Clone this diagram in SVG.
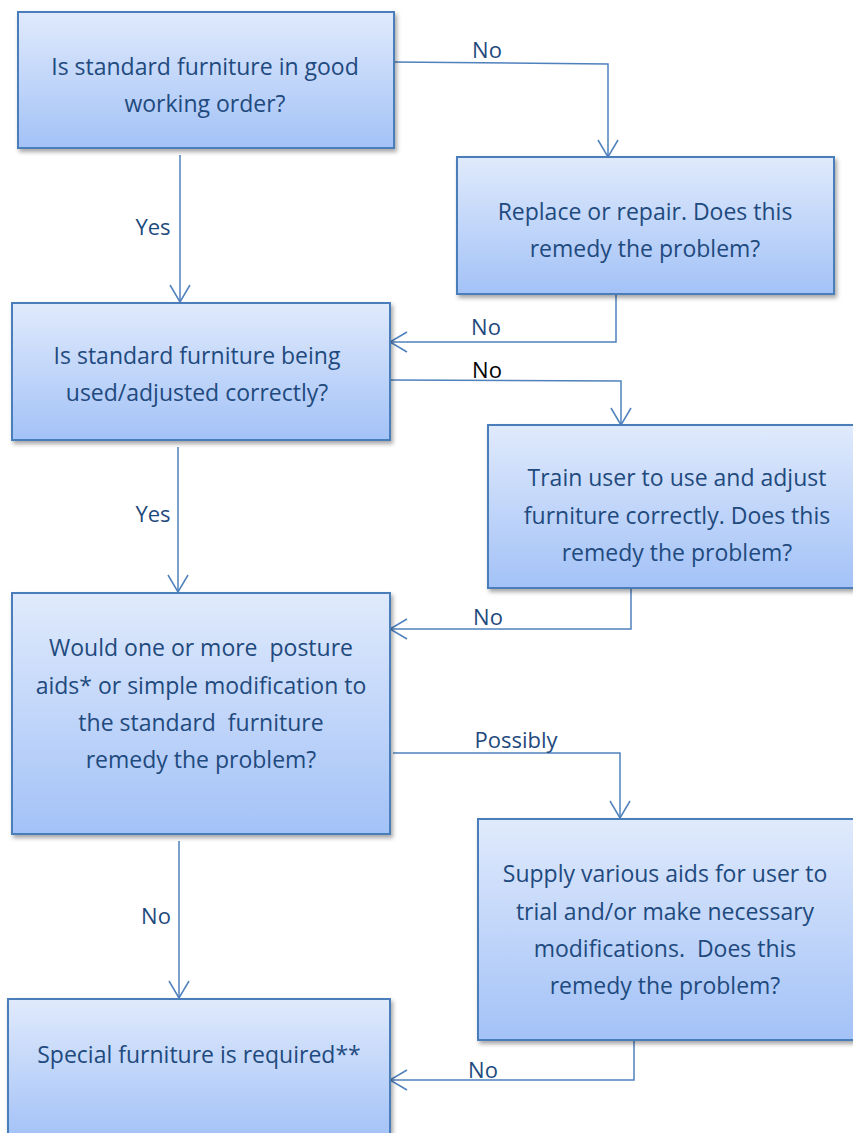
<svg xmlns="http://www.w3.org/2000/svg" width="853" height="1133" viewBox="0 0 853 1133">
<defs>
<linearGradient id="g" x1="0" y1="0" x2="0" y2="1">
<stop offset="0" stop-color="#e0eafc"/>
<stop offset="1" stop-color="#a3c2f7"/>
</linearGradient>
<filter id="sh" x="-5%" y="-5%" width="115%" height="120%">
<feDropShadow dx="2" dy="3" stdDeviation="2" flood-color="#000" flood-opacity="0.35"/>
</filter>
<marker id="ar" markerWidth="24" markerHeight="24" refX="20" refY="12" orient="auto" markerUnits="userSpaceOnUse">
<polyline points="3,2 20,12 3,22" fill="none" stroke="#4f81bd" stroke-width="1.5"/>
</marker>
<style>
.box{fill:url(#g);stroke:#4a7ebb;stroke-width:2;filter:url(#sh)}
.t{font-family:"Open Sans","Liberation Sans",sans-serif;font-size:23px;fill:#1f4a7e;text-anchor:middle}
.l{font-family:"Open Sans","Liberation Sans",sans-serif;font-size:22px;fill:#1f4a7e;text-anchor:middle}
.c{fill:none;stroke:#4f81bd;stroke-width:1.5;marker-end:url(#ar)}
</style>
</defs>
<g id="connectors">
<polyline class="c" points="392,62 608,64 608,157"/>
<polyline class="c" points="180,155 180,302"/>
<polyline class="c" points="616,295 616,342 390,342"/>
<polyline class="c" points="390,380 621,381 621,425"/>
<polyline class="c" points="178,447 178,592"/>
<polyline class="c" points="631,589 631,629 390,629"/>
<polyline class="c" points="393,753 620,753 620,818"/>
<polyline class="c" points="179,841 179,998"/>
<polyline class="c" points="634,1041 634,1080 390,1080"/>
<text class="l" x="487" y="58">No</text>
<text class="l" x="153" y="235">Yes</text>
<text class="l" x="486" y="335">No</text>
<text class="l" x="487" y="378" style="fill:#000">No</text>
<text class="l" x="153" y="522">Yes</text>
<text class="l" x="488" y="625">No</text>
<text class="l" x="516" y="748">Possibly</text>
<text class="l" x="156" y="924">No</text>
<text class="l" x="483" y="1078">No</text>
</g>
<g id="n1">
<rect class="box" x="18" y="12" width="376" height="136"/>
<text class="t" x="205" y="75">Is standard furniture in good</text>
<text class="t" x="205" y="112">working order?</text>
</g>
<g id="n2">
<rect class="box" x="457" y="157" width="377" height="137"/>
<text class="t" x="645" y="220">Replace or repair. Does this</text>
<text class="t" x="645" y="257">remedy the problem?</text>
</g>
<g id="n3">
<rect class="box" x="12" y="303" width="378" height="137"/>
<text class="t" x="197" y="364">Is standard furniture being</text>
<text class="t" x="197" y="401">used/adjusted correctly?</text>
</g>
<g id="n4">
<rect class="box" x="488" y="425" width="368" height="163"/>
<text class="t" x="677" y="486">Train user to use and adjust</text>
<text class="t" x="677" y="524">furniture correctly. Does this</text>
<text class="t" x="677" y="561">remedy the problem?</text>
</g>
<g id="n5">
<rect class="box" x="12" y="593" width="378" height="241"/>
<text class="t" x="201" y="656" xml:space="preserve">Would one or more  posture</text>
<text class="t" x="201" y="694">aids* or simple modification to</text>
<text class="t" x="201" y="731" xml:space="preserve">the standard  furniture</text>
<text class="t" x="201" y="768">remedy the problem?</text>
</g>
<g id="n6">
<rect class="box" x="478" y="819" width="378" height="221"/>
<text class="t" x="665" y="882">Supply various aids for user to</text>
<text class="t" x="665" y="920">trial and/or make necessary</text>
<text class="t" x="665" y="957" xml:space="preserve">modifications.  Does this</text>
<text class="t" x="665" y="994">remedy the problem?</text>
</g>
<g id="n7">
<rect class="box" x="8" y="999" width="382" height="140"/>
<text class="t" x="199" y="1063">Special furniture is required**</text>
</g>
</svg>
